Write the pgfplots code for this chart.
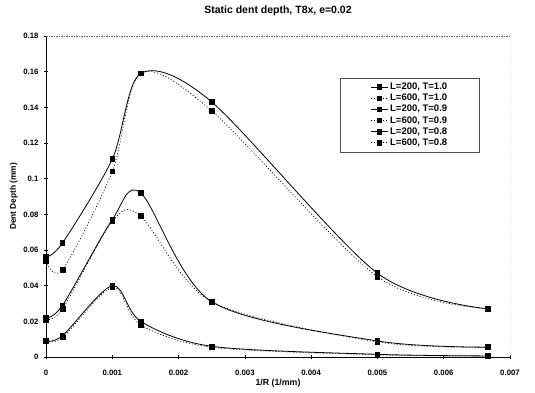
\documentclass[border=0pt]{standalone}
\usepackage{fontspec}
\setmainfont{Liberation Sans}
\usepackage{pgfplots}
\pgfplotsset{compat=1.18}
\begin{document}
\begin{tikzpicture}
\begin{axis}[
  scale only axis, width=464bp, height=321bp,
  xmin=0, xmax=0.007, ymin=0, ymax=0.18,
  axis x line=bottom, axis y line=left,
  axis line style={-, line width=0.8bp},
  scaled ticks=false,
  xtick={0,0.001,0.002,0.003,0.004,0.005,0.006,0.007},
  xticklabels={0,0.001,0.002,0.003,0.004,0.005,0.006,0.007},
  ytick={0,0.02,0.04,0.06,0.08,0.1,0.12,0.14,0.16,0.18},
  yticklabels={0,0.02,0.04,0.06,0.08,0.1,0.12,0.14,0.16,0.18},
  tick align=center, major tick length=4bp,
  tick style={black, line width=0.6bp},
  tick label style={font=\fontsize{7.8bp}{9bp}\selectfont\bfseries},
  xticklabel style={anchor=base, yshift=-16bp},
  yticklabel style={anchor=east, xshift=-2bp},
  title={Static dent depth, T8x, e=0.02},
  title style={at={(axis description cs:0.5,1.053)}, anchor=base, font=\fontsize{10.5bp}{12bp}\selectfont\bfseries},
  xlabel={1/R (1/mm)},
  xlabel style={at={(axis description cs:0.5,-0.0903)}, anchor=base, font=\fontsize{8.8bp}{10bp}\selectfont\bfseries},
  ylabel={Dent Depth (mm)},
  ylabel style={at={(axis description cs:-0.0647,0.5)}, anchor=base, rotate=0, font=\fontsize{8.3bp}{10bp}\selectfont\bfseries},
  legend cell align=left,
  legend style={at={(axis description cs:0.784,0.754)}, anchor=center,
    draw=black!70, line width=0.5bp, inner xsep=30bp, inner ysep=3bp,
    font=\fontsize{9.5bp}{11bp}\selectfont\bfseries, row sep=-1bp},
  every axis plot/.append style={black, smooth, tension=0.5, mark=square*, mark size=2.3bp, mark options={solid}},
]
\addplot[line width=0.8bp] coordinates {(0,0.056) (0.00025,0.064) (0.001,0.111) (0.001429,0.159) (0.0025,0.143) (0.005,0.047) (0.006667,0.027)};
\addlegendentry{L=200, T=1.0}
\addplot[line width=0.7bp, dash pattern=on 1bp off 2bp] coordinates {(0,0.054) (0.00025,0.049) (0.001,0.104) (0.001429,0.159) (0.0025,0.138) (0.005,0.045) (0.006667,0.027)};
\addlegendentry{L=600, T=1.0}
\addplot[line width=0.8bp] coordinates {(0,0.022) (0.00025,0.029) (0.001,0.077) (0.001429,0.092) (0.0025,0.031) (0.005,0.009) (0.006667,0.0055)};
\addlegendentry{L=200, T=0.9}
\addplot[line width=0.7bp, dash pattern=on 1bp off 2bp] coordinates {(0,0.021) (0.00025,0.027) (0.001,0.076) (0.001429,0.079) (0.0025,0.031) (0.005,0.0085) (0.006667,0.0055)};
\addlegendentry{L=600, T=0.9}
\addplot[line width=0.8bp] coordinates {(0,0.009) (0.00025,0.012) (0.001,0.040) (0.001429,0.020) (0.0025,0.006) (0.005,0.0015) (0.006667,0.0006)};
\addlegendentry{L=200, T=0.8}
\addplot[line width=0.7bp, dash pattern=on 1bp off 2bp] coordinates {(0,0.009) (0.00025,0.011) (0.001,0.039) (0.001429,0.018) (0.0025,0.0055) (0.005,0.0012) (0.006667,0.0005)};
\addlegendentry{L=600, T=0.8}
\draw[black!60, line width=0.6bp, dash pattern=on 1.5bp off 1bp] (rel axis cs:0,1) -- (rel axis cs:1,1) -- (rel axis cs:1,0);
\end{axis}
\pgfresetboundingbox
\path ([shift={(-46bp,-35bp)}]current axis.south west) rectangle ([shift={(25bp,36bp)}]current axis.north east);
\end{tikzpicture}
\end{document}
